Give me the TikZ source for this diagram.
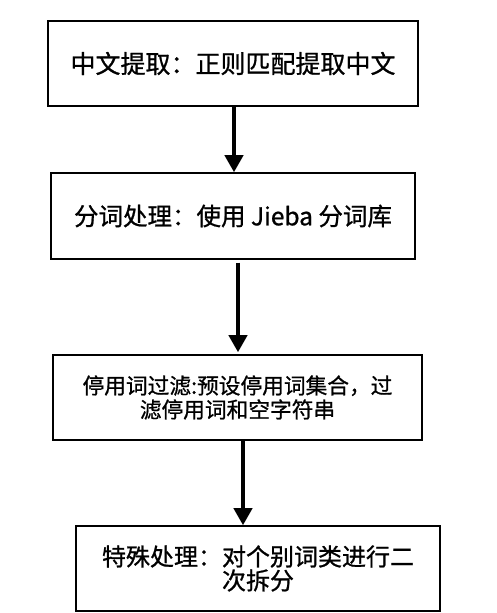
\documentclass[tikz,border=0pt]{standalone}
\usepackage{fontspec}
\newfontfamily\cjk[FakeBold=0.9]{Noto Sans CJK SC}
\usetikzlibrary{arrows.meta}
\tikzset{
  stepbox/.style={draw=black, line width=1.5pt, fill=white, inner sep=0pt, align=center, text=black},
  arr/.style={line width=4pt, -{Triangle[width=18pt,length=17pt]}}
}
\begin{document}
\begin{tikzpicture}[x=1pt,y=1pt]
\useasboundingbox[fill=white] (0,0) rectangle (496,613);
\node[stepbox, minimum width=370pt, minimum height=85pt, font=\fontsize{25}{28}\cjk] (b1) at (233,549.5) {中文提取：正则匹配提取中文};
\node[stepbox, minimum width=364pt, minimum height=86pt, font=\fontsize{24.5}{27}\cjk] (b2) at (233,397) {分词处理：使用 Jieba 分词库};
\node[stepbox, minimum width=369pt, minimum height=85pt, font=\fontsize{21.7}{24}\cjk] (b3) at (237.5,215.5) {停用词过滤:预设停用词集合，过\\滤停用词和空字符串};
\node[stepbox, minimum width=364pt, minimum height=85pt, font=\fontsize{24}{24}\cjk] (b4) at (258,44.5) {特殊处理：对个别词类进行二\\次拆分};
\coordinate (x1) at (234,0);
\coordinate (x2) at (238,0);
\coordinate (x3) at (243,0);
\draw[arr] (b1.south -| x1) -- (b2.north -| x1);
\draw[arr] ([yshift=-3pt]b2.south -| x2) -- ([yshift=2pt]b3.north -| x2);
\draw[arr] (b3.south -| x3) -- (b4.north -| x3);
\end{tikzpicture}
\end{document}
